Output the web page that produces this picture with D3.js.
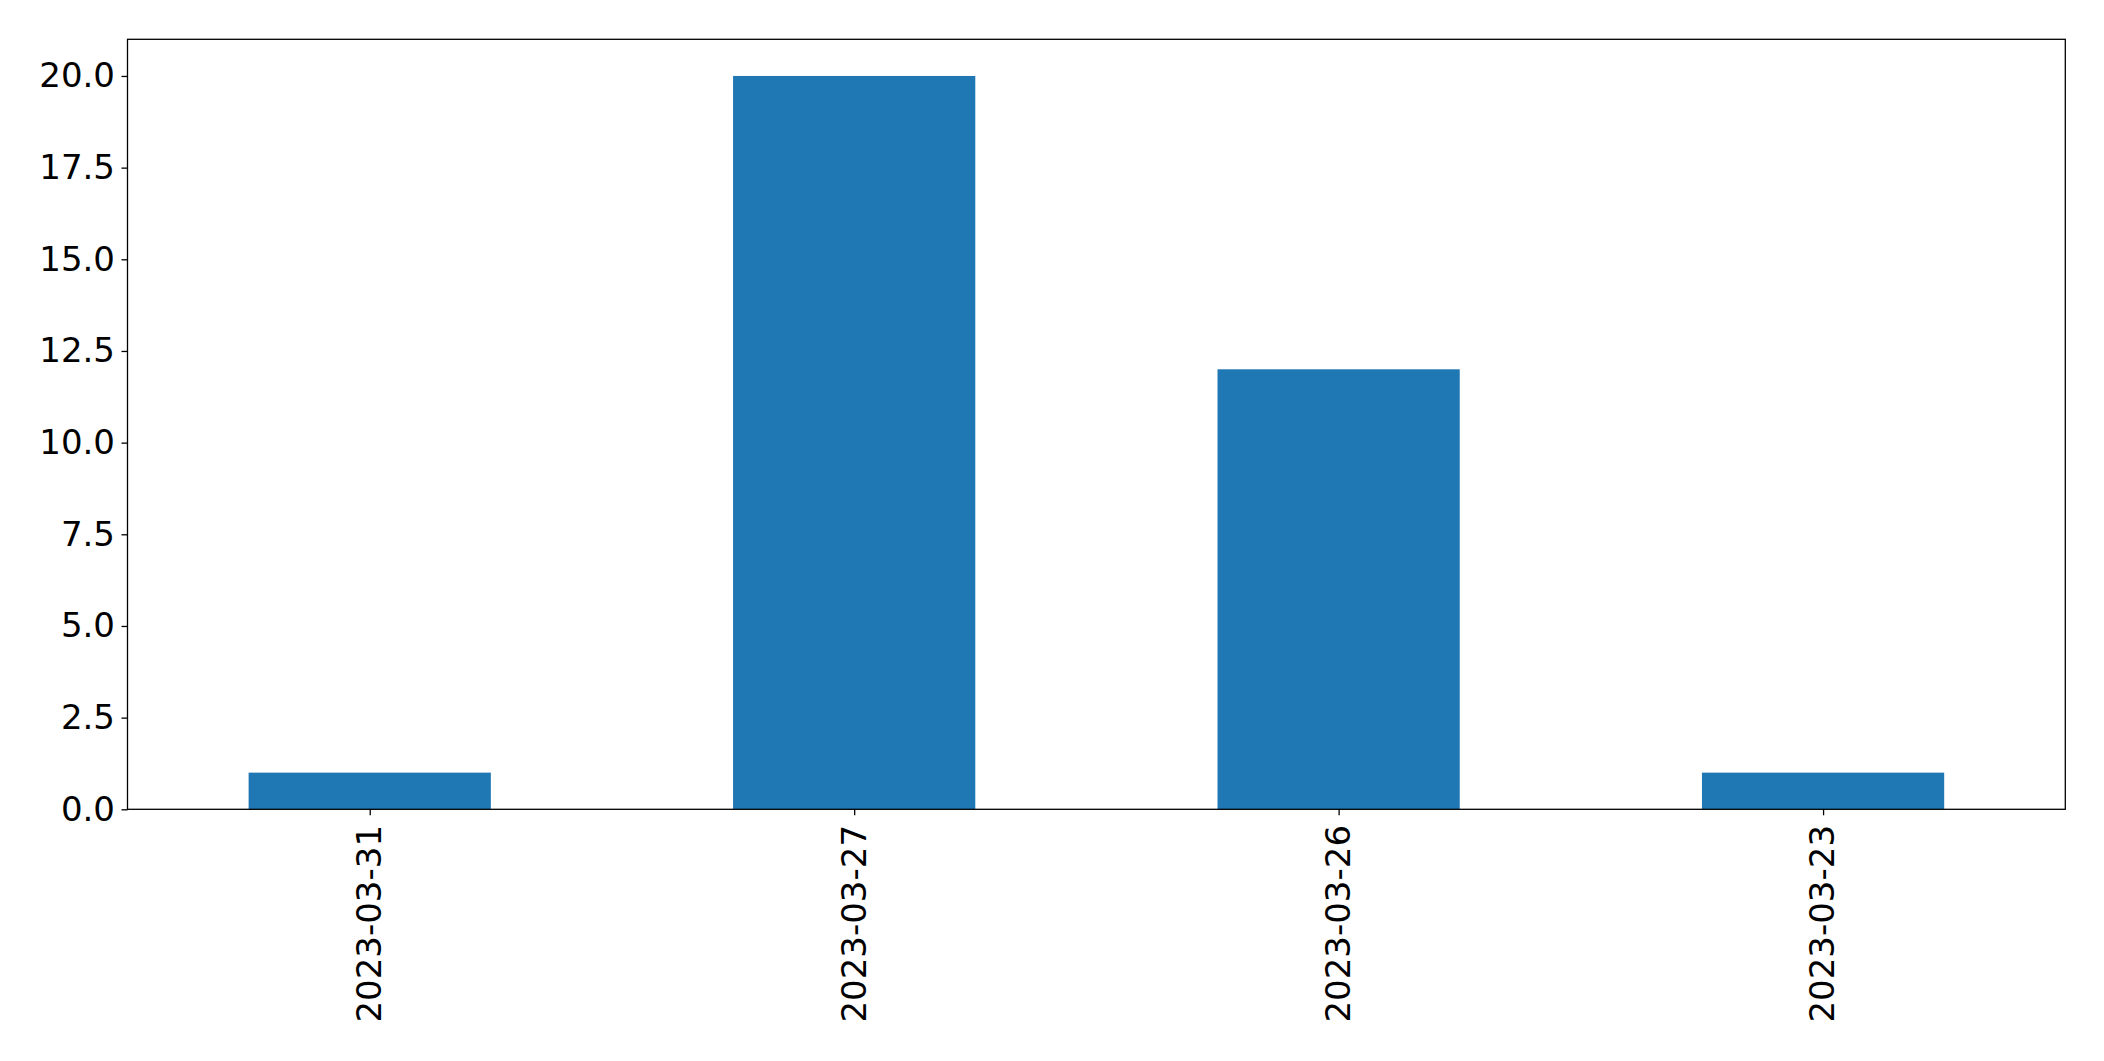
<!DOCTYPE html>
<html><head><meta charset="utf-8">
<script src="https://cdn.jsdelivr.net/npm/d3@7"></script>
<style>body{margin:0;background:#fff}</style>
</head><body>
<script>
const categories = ["2023-03-31","2023-03-27","2023-03-26","2023-03-23"];
const values = [1, 20, 12, 1];
const yTicks = [0, 2.5, 5, 7.5, 10, 12.5, 15, 17.5, 20];

const W = 2104, H = 1061;
const m = {left:127.5, right:2065.3, top:39.3, bottom:809.3};
const svg = d3.select("body").append("svg").attr("width", W).attr("height", H);

const x = d3.scaleLinear().domain([-0.5, categories.length - 0.5]).range([m.left, m.right]);
const y = d3.scaleLinear().domain([0, 21]).range([m.bottom, m.top]);

svg.append("g").selectAll("rect").data(values).join("rect")
  .attr("x", (d,i) => x(i - 0.25))
  .attr("width", (d,i) => x(i + 0.25) - x(i - 0.25))
  .attr("y", d => y(d))
  .attr("height", d => y(0) - y(d))
  .attr("fill", "#1f77b4");

const font = "DejaVu Sans";
const fs = 34;
const yAxis = svg.append("g").attr("transform", `translate(${m.left},0)`)
  .call(d3.axisLeft(y).tickValues(yTicks).tickFormat(d3.format(".1f")).tickSize(6).tickPadding(6.5));
yAxis.select(".domain").remove();
yAxis.selectAll("text").attr("font-family", font).attr("font-size", fs).attr("fill", "#000");
yAxis.selectAll("line").attr("stroke", "#000").attr("stroke-width", 1.3);

const xAxis = svg.append("g").attr("transform", `translate(0,${m.bottom})`)
  .call(d3.axisBottom(x).tickValues(d3.range(categories.length)).tickFormat(i => categories[i]).tickSize(6));
xAxis.select(".domain").remove();
xAxis.selectAll("line").attr("stroke", "#000").attr("stroke-width", 1.3);
xAxis.selectAll("text").attr("font-family", font).attr("font-size", fs).attr("fill", "#000")
  .attr("text-anchor", "end").attr("transform", "rotate(-90)")
  .attr("x", -15.7).attr("y", 0).attr("dy", "0.32em");

svg.append("rect").attr("x", m.left).attr("y", m.top)
  .attr("width", m.right - m.left).attr("height", m.bottom - m.top)
  .attr("fill", "none").attr("stroke", "#000").attr("stroke-width", 1.3);
</script>
</body></html>
